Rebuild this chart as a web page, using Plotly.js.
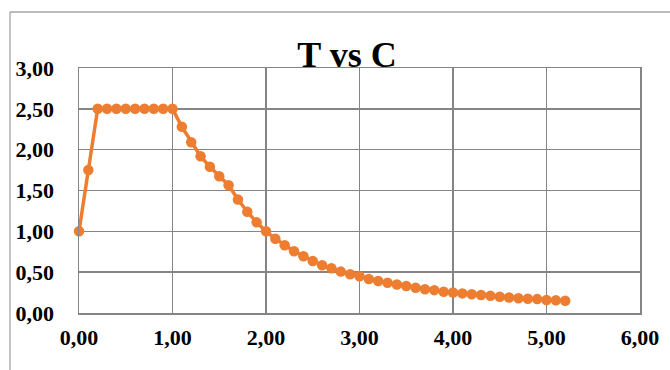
<!DOCTYPE html>
<html>
<head>
<meta charset="utf-8">
<script src="https://cdn.plot.ly/plotly-3.0.1.min.js"></script>
<style>
html,body{margin:0;padding:0;background:#fff;}
#chart{width:670px;height:370px;}
</style>
</head>
<body>
<div id="chart"></div>
<script>
const periodT = [0.0, 0.1, 0.2, 0.3, 0.4, 0.5, 0.6, 0.7, 0.8, 0.9, 1.0,
  1.1, 1.2, 1.3, 1.4, 1.5, 1.6, 1.7, 1.8, 1.9, 2.0,
  2.1, 2.2, 2.3, 2.4, 2.5, 2.6, 2.7, 2.8, 2.9, 3.0,
  3.1, 3.2, 3.3, 3.4, 3.5, 3.6, 3.7, 3.8, 3.9, 4.0,
  4.1, 4.2, 4.3, 4.4, 4.5, 4.6, 4.7, 4.8, 4.9, 5.0,
  5.1, 5.2];
const coefC = [1.00, 1.75, 2.50, 2.50, 2.50, 2.50, 2.50, 2.50, 2.50, 2.50, 2.50,
  2.28, 2.09, 1.92, 1.79, 1.675, 1.565, 1.39, 1.24, 1.11, 1.00,
  0.91, 0.83, 0.757, 0.695, 0.637, 0.585, 0.548, 0.507, 0.474, 0.45,
  0.417, 0.392, 0.37, 0.35, 0.33, 0.31, 0.29, 0.28, 0.26, 0.25,
  0.24, 0.23, 0.22, 0.21, 0.20, 0.19, 0.18, 0.175, 0.17, 0.16,
  0.155, 0.15];
const xTickVals = [0, 1, 2, 3, 4, 5, 6];
const xTickText = ["0,00", "1,00", "2,00", "3,00", "4,00", "5,00", "6,00"];
const yTickVals = [0, 0.5, 1, 1.5, 2, 2.5, 3];
const yTickText = ["0,00", "0,50", "1,00", "1,50", "2,00", "2,50", "3,00"];
const chartTitle = "T vs C";

const serif = '"Liberation Serif", "Times New Roman", serif';
const gridCol = '#858585';
const W = 670, H = 370, mL = 79, mR = 30, mT = 68, mB = 57;
const pw = W - mL - mR, ph = H - mT - mB;
const bx = (10 - mL) / pw, by = 1 + (mT - 12) / ph;

Plotly.newPlot('chart', [{
  x: periodT, y: coefC, type: 'scatter', mode: 'lines+markers',
  line: {color: '#ED7D31', width: 3.5},
  marker: {color: '#ED7D31', size: 10.5},
  cliponaxis: false,
  hoverinfo: 'skip'
}], {
  width: W, height: H,
  margin: {l: mL, r: mR, t: mT, b: mB, pad: 0},
  paper_bgcolor: '#fff', plot_bgcolor: '#fff',
  showlegend: false,
  title: {text: '<b>' + chartTitle + '</b>', font: {family: serif, size: 36, color: '#000'},
    x: 347 / W, xref: 'container', xanchor: 'center', y: 1 - 54 / H, yref: 'container', yanchor: 'middle'},
  xaxis: {range: [0, 6], tickvals: xTickVals, ticktext: xTickText, showgrid: true, gridcolor: gridCol, gridwidth: 1.5,
    showline: true, linecolor: gridCol, linewidth: 1.5, mirror: true, zeroline: false, ticks: '',
    ticklabelstandoff: 4,
    tickfont: {family: serif, size: 22, color: '#000', weight: 'bold'}},
  yaxis: {range: [0, 3], tickvals: yTickVals, ticktext: yTickText, showgrid: true, gridcolor: gridCol, gridwidth: 1.5,
    showline: true, linecolor: gridCol, linewidth: 1.5, mirror: true, zeroline: false, ticks: '',
    ticklabelstandoff: 19,
    tickfont: {family: serif, size: 22, color: '#000', weight: 'bold'}},
  shapes: [
    {type: 'line', xref: 'paper', yref: 'paper', x0: bx, x1: bx, y0: -0.5, y1: by, line: {color: '#a6a6a6', width: 1.3}},
    {type: 'line', xref: 'paper', yref: 'paper', x0: bx, x1: 1.2, y0: by, y1: by, line: {color: '#a6a6a6', width: 1.3}}
  ]
}, {displayModeBar: false, staticPlot: true});
</script>
</body>
</html>
